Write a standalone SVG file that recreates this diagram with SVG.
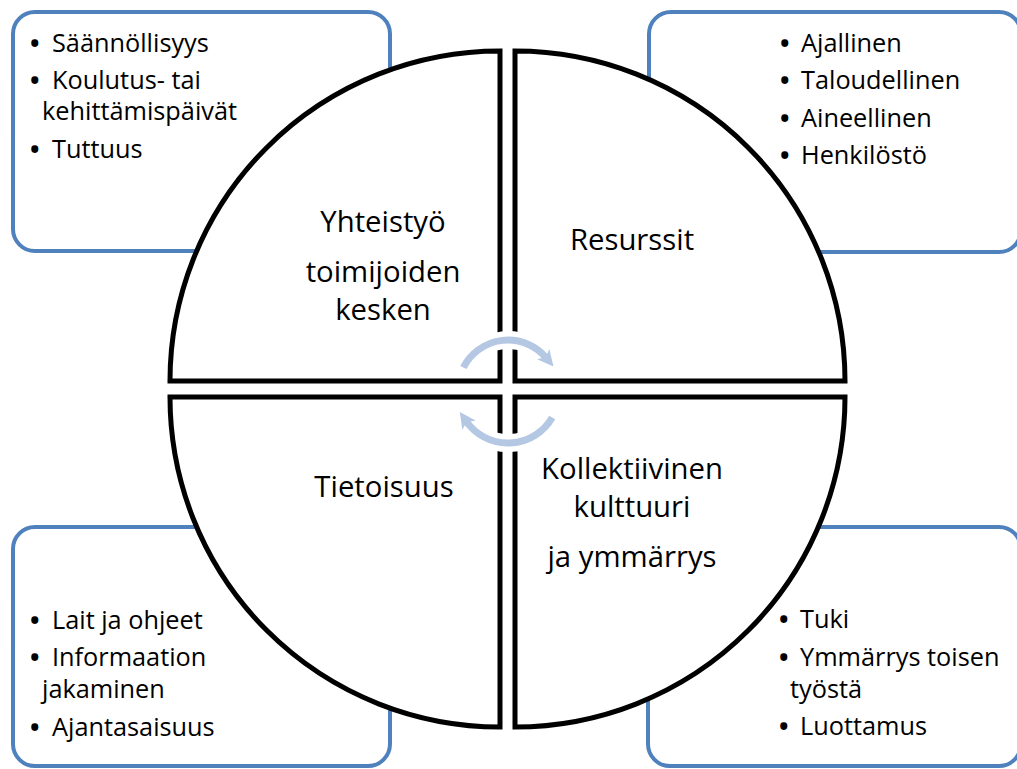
<svg xmlns="http://www.w3.org/2000/svg" width="1017" height="769" viewBox="0 0 1017 769">
<style>
.box{fill:#fff;stroke:#4F81BD;stroke-width:4}
.q{fill:#fff;stroke:#000;stroke-width:5;stroke-linejoin:miter}
.b{font-family:"Open Sans","Noto Sans",sans-serif;font-size:25.3px;fill:#000}
.d{font-weight:bold}
.l{font-family:"Open Sans","Noto Sans",sans-serif;font-size:29.3px;fill:#000;text-anchor:middle}
.halo{fill:none;stroke:#fff;stroke-width:18}
.arc{fill:none;stroke:#B4C7E3;stroke-width:7}
</style>
<defs>
<marker id="ah" markerUnits="userSpaceOnUse" markerWidth="16" markerHeight="16" viewBox="0 0 10 10" refX="3" refY="5" orient="auto">
<path d="M0,0 L10,5 L0,10 L2.5,5 Z" fill="#B4C7E3"/>
</marker>
</defs>
<rect width="1017" height="769" fill="#fff"/>
<g id="box-tl"><rect class="box" x="13" y="12" width="377" height="239" rx="22"/>
<text class="b"><tspan class="d" x="30" y="52">•</tspan><tspan x="52" y="52">Säännöllisyys</tspan><tspan class="d" x="30" y="89">•</tspan><tspan x="52" y="89">Koulutus- tai</tspan><tspan x="42" y="120">kehittämispäivät</tspan><tspan class="d" x="30" y="158">•</tspan><tspan x="52" y="158">Tuttuus</tspan></text></g>
<g id="box-tr"><rect class="box" x="649" y="12" width="372" height="240" rx="22"/>
<text class="b"><tspan class="d" x="780" y="52">•</tspan><tspan x="801" y="52">Ajallinen</tspan><tspan class="d" x="780" y="89">•</tspan><tspan x="801" y="89">Taloudellinen</tspan><tspan class="d" x="780" y="127">•</tspan><tspan x="801" y="127">Aineellinen</tspan><tspan class="d" x="780" y="164">•</tspan><tspan x="801" y="164">Henkilöstö</tspan></text></g>
<g id="box-bl"><rect class="box" x="13" y="527" width="377" height="239" rx="22"/>
<text class="b"><tspan class="d" x="30" y="629">•</tspan><tspan x="52" y="629">Lait ja ohjeet</tspan><tspan class="d" x="30" y="666">•</tspan><tspan x="52" y="666">Informaation</tspan><tspan x="42" y="698">jakaminen</tspan><tspan class="d" x="30" y="736">•</tspan><tspan x="52" y="736">Ajantasaisuus</tspan></text></g>
<g id="box-br"><rect class="box" x="648" y="527" width="373" height="239" rx="22"/>
<text class="b"><tspan class="d" x="779" y="628">•</tspan><tspan x="800" y="628">Tuki</tspan><tspan class="d" x="779" y="666">•</tspan><tspan x="800" y="666">Ymmärrys toisen</tspan><tspan x="790" y="698">työstä</tspan><tspan class="d" x="779" y="735">•</tspan><tspan x="800" y="735">Luottamus</tspan></text></g>
<g id="q-tl"><path class="q" d="M500,381 L170,381 A330,330 0 0 1 500,51 Z"/>
<text class="l"><tspan x="383" y="232">Yhteistyö</tspan><tspan x="383" y="282">toimijoiden</tspan><tspan x="383" y="320">kesken</tspan></text></g>
<g id="q-tr"><path class="q" d="M515,381 L515,51 A330,330 0 0 1 845,381 Z"/>
<text class="l"><tspan x="632" y="250">Resurssit</tspan></text></g>
<g id="q-br"><path class="q" d="M515,397 L845,397 A330,330 0 0 1 515,727 Z"/>
<text class="l"><tspan x="632" y="479">Kollektiivinen</tspan><tspan x="632" y="517">kulttuuri</tspan><tspan x="632" y="567">ja ymmärrys</tspan></text></g>
<g id="q-bl"><path class="q" d="M500,397 L500,727 A330,330 0 0 1 170,397 Z"/>
<text class="l"><tspan x="384" y="497">Tietoisuus</tspan></text></g>
<g id="connectors">
<path class="halo" d="M463.4,367.5 A50,50 0 0 1 546.3,357.9"/>
<path class="halo" d="M552.2,417.5 A51,51 0 0 1 466.2,421.3"/>
<path class="arc" d="M463.4,367.5 A50,50 0 0 1 546.3,357.9" marker-end="url(#ah)"/>
<path class="arc" d="M552.2,417.5 A51,51 0 0 1 466.2,421.3" marker-end="url(#ah)"/>
</g>
</svg>
